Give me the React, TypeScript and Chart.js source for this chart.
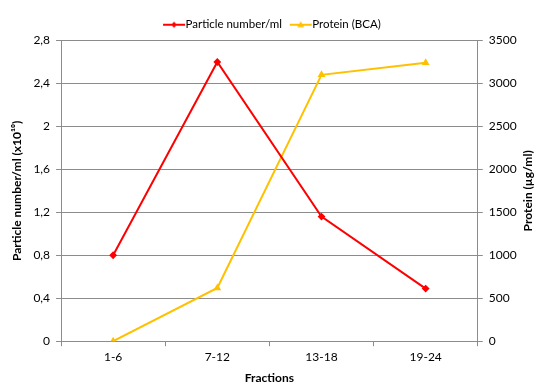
import React, { useEffect, useRef } from "react";
import { Chart, registerables } from "chart.js";

Chart.register(...registerables);

const categories = ["1-6", "7-12", "13-18", "19-24"];
const particleValues = [0.8, 2.6, 1.16, 0.49];
const proteinValues = [0, 620, 3100, 3240];
const leftTicks = [0, 0.4, 0.8, 1.2, 1.6, 2, 2.4, 2.8];
const rightTicks = [0, 500, 1000, 1500, 2000, 2500, 3000, 3500];
const rightTitle = "Protein (µg/ml)";

const RED = "#FF0000";
const YELLOW = "#FFC000";
const GRID = "#8C8C8C";
const FONT = "Lato, 'Open Sans', sans-serif";

function legendIcon(color: string, shape: "diamond" | "triangle") {
  const c = document.createElement("canvas");
  c.width = 24;
  c.height = 10;
  const ctx = c.getContext("2d")!;
  ctx.strokeStyle = color;
  ctx.fillStyle = color;
  ctx.lineWidth = 2;
  ctx.beginPath();
  ctx.moveTo(1, 5);
  ctx.lineTo(23, 5);
  ctx.stroke();
  ctx.beginPath();
  if (shape === "diamond") {
    ctx.moveTo(12, 2);
    ctx.lineTo(15, 5);
    ctx.lineTo(12, 8);
    ctx.lineTo(9, 5);
  } else {
    ctx.moveTo(12, 1.5);
    ctx.lineTo(15.5, 7.5);
    ctx.lineTo(8.5, 7.5);
  }
  ctx.closePath();
  ctx.fill();
  return c;
}

const rightTitlePlugin = {
  id: "rightTitle",
  afterDraw(chart: any) {
    const s = chart.scales.y1;
    const ctx = chart.ctx;
    ctx.save();
    ctx.font = `bold 12px ${FONT}`;
    ctx.fillStyle = "#000";
    ctx.textAlign = "center";
    ctx.textBaseline = "middle";
    ctx.translate(s.right - 11, (chart.chartArea.top + chart.chartArea.bottom) / 2);
    ctx.rotate(-Math.PI / 2);
    ctx.fillText(rightTitle, 0, 0);
    ctx.restore();
  },
};

export default function App() {
  const ref = useRef<HTMLCanvasElement>(null);
  useEffect(() => {
    document.body.style.margin = "0";
    const icons = [legendIcon(RED, "diamond"), legendIcon(YELLOW, "triangle")];
    const chart = new Chart(ref.current!, {
      type: "line",
      data: {
        labels: categories,
        datasets: [
          {
            label: "Particle number/ml",
            data: particleValues,
            borderColor: RED,
            backgroundColor: RED,
            borderWidth: 2,
            pointStyle: "rectRot",
            pointRadius: 2.5,
            yAxisID: "y",
          },
          {
            label: "Protein (BCA)",
            data: proteinValues,
            borderColor: YELLOW,
            backgroundColor: YELLOW,
            borderWidth: 2,
            pointStyle: "triangle",
            pointRadius: 2.5,
            yAxisID: "y1",
          },
        ],
      },
      plugins: [rightTitlePlugin],
      options: {
        animation: false,
        responsive: false,
        layout: { padding: { left: 10, right: 11, top: 6, bottom: 6 } },
        plugins: {
          legend: {
            position: "top",
            labels: {
              usePointStyle: true,
              font: { family: FONT, size: 11.5 },
              color: "#000",
              padding: 13,
              generateLabels: (ch: any) =>
                ch.data.datasets.map((ds: any, i: number) => ({
                  text: ds.label,
                  pointStyle: icons[i],
                  fillStyle: ds.borderColor,
                  strokeStyle: ds.borderColor,
                  lineWidth: 0,
                  hidden: false,
                  datasetIndex: i,
                  fontColor: "#000",
                })),
            },
          },
          tooltip: { enabled: false },
        },
        scales: {
          x: {
            offset: true,
            grid: {
              offset: true,
              drawOnChartArea: false,
              tickLength: 5,
              color: GRID,
            },
            border: { color: GRID },
            ticks: { font: { family: FONT, size: 12 }, color: "#000", padding: 4 },
            title: {
              display: true,
              text: "Fractions",
              font: { family: FONT, size: 12, weight: "bold" },
              color: "#000",
              padding: { top: 2, bottom: 0 },
            },
          },
          y: {
            position: "left",
            min: 0,
            max: 2.8,
            afterBuildTicks: (s: any) => {
              s.ticks = leftTicks.map((v) => ({ value: v }));
            },
            ticks: {
              font: { family: FONT, size: 12 },
              color: "#000",
              padding: 6,
              callback: (v: any) => String(Math.round(Number(v) * 10) / 10).replace(".", ","),
            },
            grid: { color: GRID, tickLength: 5 },
            border: { color: GRID },
            title: {
              display: true,
              text: "Particle number/ml (x10¹⁰)",
              font: { family: FONT, size: 12, weight: "bold" },
              color: "#000",
              padding: { top: 0, bottom: 3 },
            },
          },
          y1: {
            position: "right",
            min: 0,
            max: 3500,
            afterBuildTicks: (s: any) => {
              s.ticks = rightTicks.map((v) => ({ value: v }));
            },
            ticks: {
              font: { family: FONT, size: 12 },
              color: "#000",
              padding: 6,
              callback: (v: any) => String(v),
            },
            grid: { drawOnChartArea: false, color: GRID, tickLength: 5 },
            border: { color: GRID },
            title: {
              display: true,
              text: rightTitle,
              font: { family: FONT, size: 12, weight: "bold" },
              color: "rgba(0,0,0,0)",
              padding: { top: 2, bottom: 0 },
            },
          },
        },
      },
    } as any);
    return () => chart.destroy();
  }, []);
  return <canvas ref={ref} width={550} height={391} style={{ display: "block" }} />;
}
